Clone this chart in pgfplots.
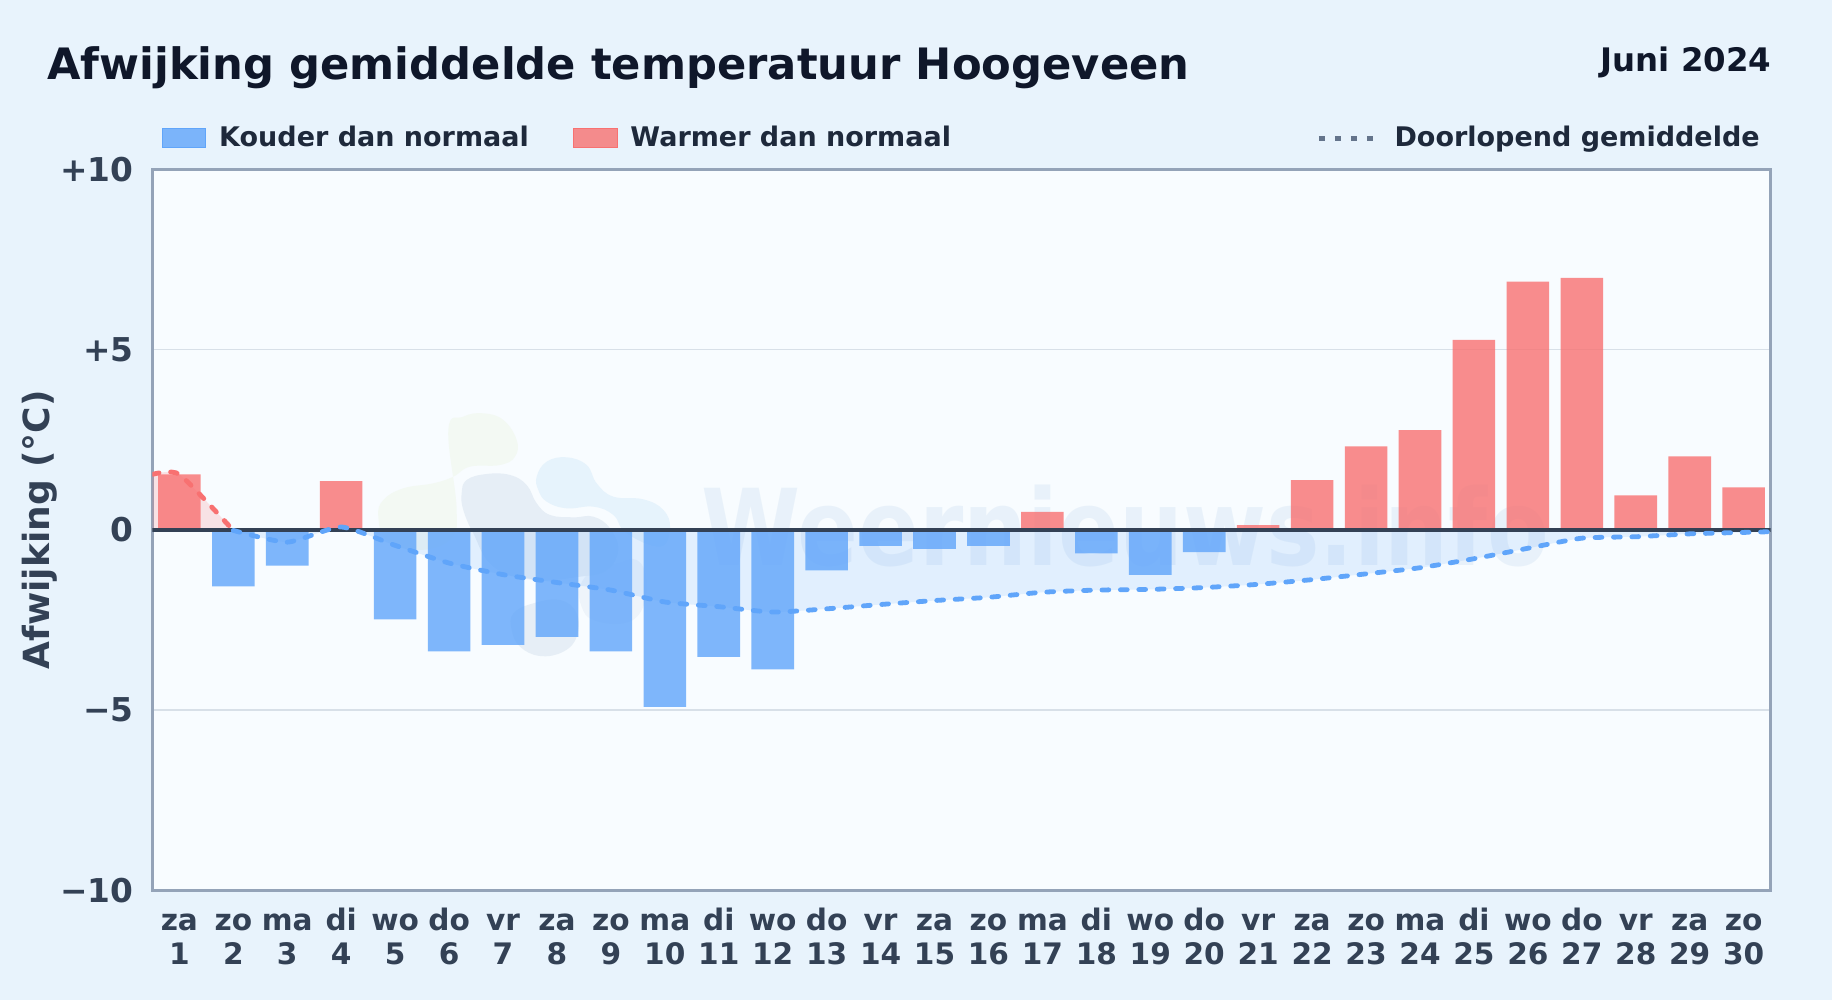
\documentclass[border=0pt]{standalone}
\usepackage{fontspec}
\setmainfont{DejaVu Sans}
\usepackage{pgfplots}
\pgfplotsset{compat=1.18}

\definecolor{pagebg}{HTML}{E8F3FC}
\definecolor{plotbg}{HTML}{F8FCFF}
\definecolor{frame}{HTML}{94A3B8}
\definecolor{zeroline}{HTML}{334155}
\definecolor{gridc}{HTML}{D8E0E8}
\definecolor{ticktext}{HTML}{334155}
\definecolor{legtext}{HTML}{1E293B}
\definecolor{titletext}{HTML}{0F172A}
\definecolor{cold}{HTML}{60A5FA}
\definecolor{warm}{HTML}{F87171}
\definecolor{legdots}{HTML}{64748B}
\definecolor{logogreen}{HTML}{F3F9F3}
\definecolor{logogrey}{HTML}{E6EEF6}
\definecolor{logoblue}{HTML}{E6F3FC}
\definecolor{logofaint}{HTML}{EEF4FA}
\definecolor{marktext}{HTML}{4A86C8}

% day label: weekday over date, same baselines on every tick
\newcommand{\dl}[2]{\strut #1\\\strut #2}

\begin{document}
\begin{tikzpicture}[x=1pt,y=1pt]
  % page and plot backgrounds, watermark sits under the axis
  \path[use as bounding box,fill=pagebg] (0,0) rectangle (916,500);
  \fill[plotbg] (76.2,54.8) rectangle (885.3,415.3);

  % logo blobs
  \begin{scope}[shift={(180pt,300pt)},x=0.16667pt,y=-0.16667pt]
    \fill[logogreen] plot[smooth cycle,tension=0.7] coordinates
      {(265,90) (310,50) (370,40) (430,60) (470,120) (465,170) (420,195) (330,200) (280,230) (220,250) (130,265) (70,300) (55,350) (80,420) (170,450) (270,420) (290,330)};
    \fill[logoblue] plot[smooth cycle,tension=0.7] coordinates
      {(530,230) (560,185) (620,172) (680,195) (710,250) (760,290) (850,298) (910,330) (930,385) (900,440) (800,400) (760,345) (700,320) (620,325) (560,305) (535,270)};
    \fill[logofaint] plot[smooth cycle,tension=0.7] coordinates
      {(660,560) (700,510) (770,490) (830,480) (860,540) (845,630) (790,670) (700,660) (665,620)};
    \fill[logogrey] plot[smooth cycle,tension=0.7] coordinates
      {(305,280) (320,240) (380,222) (450,225) (500,255) (530,310) (570,345) (640,352) (700,350) (750,385) (775,450) (740,510) (660,530) (520,540) (400,500) (340,400) (310,330)};
    \fill[logogrey] plot[smooth cycle,tension=0.7] coordinates
      {(460,640) (520,610) (600,600) (650,640) (650,710) (610,755) (540,768) (480,740) (455,690)};
  \end{scope}
  \node[anchor=base west,inner sep=0pt,text=marktext,opacity=0.085,xscale=0.848,font=\fontsize{53}{53}\selectfont\bfseries] at (350.5,217.2) {Weernieuws.info};

  \node[anchor=base west,inner sep=0pt,text=titletext,font=\fontsize{21.63}{24}\selectfont\bfseries] at (23.4,460.3) {Afwijking gemiddelde temperatuur Hoogeveen};
  \node[anchor=base east,inner sep=0pt,text=titletext,font=\fontsize{16.2}{19}\selectfont\bfseries] at (885.8,464.4) {Juni 2024};

  \begin{axis}[
    at={(76.2pt,54.8pt)},
    anchor=south west,
    scale only axis,
    width=809.1pt,
    height=360.5pt,
    xmin=0.5, xmax=30.5,
    ymin=-10, ymax=10,
    xtick={1,...,30},
    xticklabels={{\dl{za}{1}},{\dl{zo}{2}},{\dl{ma}{3}},{\dl{di}{4}},{\dl{wo}{5}},{\dl{do}{6}},{\dl{vr}{7}},{\dl{za}{8}},{\dl{zo}{9}},{\dl{ma}{10}},{\dl{di}{11}},{\dl{wo}{12}},{\dl{do}{13}},{\dl{vr}{14}},{\dl{za}{15}},{\dl{zo}{16}},{\dl{ma}{17}},{\dl{di}{18}},{\dl{wo}{19}},{\dl{do}{20}},{\dl{vr}{21}},{\dl{za}{22}},{\dl{zo}{23}},{\dl{ma}{24}},{\dl{di}{25}},{\dl{wo}{26}},{\dl{do}{27}},{\dl{vr}{28}},{\dl{za}{29}},{\dl{zo}{30}}},
    ytick={-10,-5,0,5,10},
    yticklabels={−10,−5,0,+5,+10},
    tick style={draw=none},
    ymajorgrids,
    grid style={gridc,line width=0.8pt},
    axis line style={frame,line width=1.2pt},
    x tick label style={align=center,text=ticktext,font=\fontsize{14.8}{17}\selectfont\bfseries,yshift=-4.7pt},
    y tick label style={text=ticktext,font=\fontsize{16.4}{19}\selectfont\bfseries,xshift=-6pt},
    ylabel={Afwijking (°C)},
    every axis y label/.style={at={(rel axis cs:0,0.5)},rotate=90,anchor=center,yshift=56.3pt},
    ylabel style={text=ticktext,font=\fontsize{18}{20}\selectfont\bfseries},
    legend columns=3,
    legend cell align=left,
    legend style={
      at={(0,1)},anchor=south west,xshift=1.7pt,yshift=7.5pt,
      draw=none,fill=none,text=legtext,
      font=\fontsize{13.5}{15}\selectfont\bfseries,
      nodes={inner sep=0pt},
      /tikz/every odd column/.append style={column sep=6.5pt},
      /tikz/column 2/.style={column sep=22.3pt},
      /tikz/column 4/.style={column sep=182.75pt},
    },
  ]
    % legend entries
    \addlegendimage{legend image code/.code={\fill[cold,fill opacity=0.8] (0pt,-4.7pt) rectangle (21.6pt,4.7pt);}}
    \addlegendentry{Kouder dan normaal}
    \addlegendimage{legend image code/.code={\fill[warm,fill opacity=0.8] (0pt,-4.7pt) rectangle (21.6pt,4.7pt);}}
    \addlegendentry{Warmer dan normaal}
    % the empty path widens the image, which sets the gap before the text
    \addlegendimage{legend image code/.code={\draw[legdots,line width=2.4pt,dash pattern=on 2.8pt off 5.2pt] (0pt,0pt) -- (28pt,0pt); \path[draw=none] (0pt,0pt) -- (31.3pt,0pt);}}
    \addlegendentry{Doorlopend gemiddelde}

    % area between running mean and zero
    \addplot[forget plot,draw=none,fill=warm,fill opacity=0.18,smooth,tension=0.35]
      coordinates {(0.5,1.54) (1,1.54) (2,-0.015)} \closedcycle;
    \addplot[forget plot,draw=none,fill=cold,fill opacity=0.15,smooth,tension=0.35]
      coordinates {(2,-0.015) (3,-0.34) (4,0.08) (5,-0.43) (6,-0.92) (7,-1.24) (8,-1.46) (9,-1.67) (10,-2.00) (11,-2.13) (12,-2.28) (13,-2.19) (14,-2.07) (15,-1.96) (16,-1.87) (17,-1.73) (18,-1.67) (19,-1.65) (20,-1.60) (21,-1.51) (22,-1.38) (23,-1.22) (24,-1.05) (25,-0.80) (26,-0.51) (27,-0.23) (28,-0.19) (29,-0.11) (30,-0.07) (30.5,-0.05)} \closedcycle;

    % daily deviation, cold and warm days
    \addplot[forget plot,ybar,bar width=0.79,bar shift=0pt,draw=none,fill=cold,fill opacity=0.8]
      coordinates {(2,-1.57) (3,-0.99) (5,-2.48) (6,-3.37) (7,-3.19) (8,-2.97) (9,-3.37) (10,-4.91) (11,-3.52) (12,-3.87) (13,-1.12) (14,-0.44) (15,-0.53) (16,-0.44) (18,-0.65) (19,-1.25) (20,-0.62)};
    \addplot[forget plot,ybar,bar width=0.79,bar shift=0pt,draw=none,fill=warm,fill opacity=0.8]
      coordinates {(1,1.54) (4,1.35) (17,0.50) (21,0.13) (22,1.38) (23,2.32) (24,2.77) (25,5.27) (26,6.89) (27,6.99) (28,0.96) (29,2.04) (30,1.18)};

    % zero line
    \addplot[forget plot,zeroline,line width=2pt] coordinates {(0.5,0) (30.5,0)};

    % running mean
    \addplot[forget plot,warm,line width=2.4pt,line cap=round,dash pattern=on 3.4pt off 5.8pt,smooth,tension=0.35]
      coordinates {(0.5,1.54) (1,1.54) (2,-0.015)};
    \addplot[forget plot,cold,line width=2.4pt,line cap=round,dash pattern=on 3.4pt off 5.8pt,smooth,tension=0.35]
      coordinates {(2,-0.015) (3,-0.34) (4,0.08) (5,-0.43) (6,-0.92) (7,-1.24) (8,-1.46) (9,-1.67) (10,-2.00) (11,-2.13) (12,-2.28) (13,-2.19) (14,-2.07) (15,-1.96) (16,-1.87) (17,-1.73) (18,-1.67) (19,-1.65) (20,-1.60) (21,-1.51) (22,-1.38) (23,-1.22) (24,-1.05) (25,-0.80) (26,-0.51) (27,-0.23) (28,-0.19) (29,-0.11) (30,-0.07) (30.5,-0.05)};
  \end{axis}
\end{tikzpicture}
\end{document}
